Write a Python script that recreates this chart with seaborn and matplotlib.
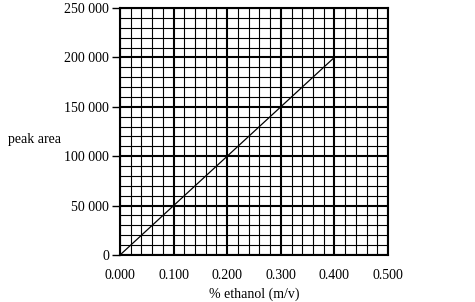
import matplotlib
matplotlib.use("Agg")
import matplotlib.pyplot as plt
import seaborn as sns
import pandas as pd
from matplotlib.ticker import MultipleLocator, FuncFormatter

sns.set_theme(style="white")
plt.rcParams['font.family'] = ['Liberation Serif', 'DejaVu Serif']

ethanol = [0.0, 0.4]
peak_area = [0, 200000]
df = pd.DataFrame({"ethanol": ethanol, "area": peak_area})

fig = plt.figure(figsize=(4.75, 3.02), dpi=100)
ax = fig.add_axes([120/475, 1-255/302, 268/475, 247/302])

ax.set_xlim(0, 0.5)
ax.set_ylim(0, 250000)
ax.xaxis.set_major_locator(MultipleLocator(0.1))
ax.xaxis.set_minor_locator(MultipleLocator(0.02))
ax.yaxis.set_major_locator(MultipleLocator(50000))
ax.yaxis.set_minor_locator(MultipleLocator(10000))
ax.grid(which="minor", color="black", linewidth=0.8)
ax.grid(which="major", color="black", linewidth=1.5)
ax.set_axisbelow(True)

sns.lineplot(data=df, x="ethanol", y="area", ax=ax, color="black", linewidth=0.9)

ax.xaxis.set_major_formatter(FuncFormatter(lambda v, p: f"{v:.3f}"))
ax.yaxis.set_major_formatter(FuncFormatter(lambda v, p: f"{int(round(v)):,}".replace(",", " ")))
ax.tick_params(axis="y", which="major", left=True, length=6, width=1, color="black", labelsize=10, pad=2, labelcolor="black")
ax.tick_params(axis="y", which="minor", left=False)
ax.tick_params(axis="x", which="both", bottom=False, labelsize=10, pad=4, labelcolor="black")
for s in ax.spines.values():
    s.set_color("black")
    s.set_linewidth(1.5)

ax.set_xlabel("% ethanol (m/v)", fontsize=10, color="black", labelpad=4)
ax.set_ylabel("")
fig.text(8/475, 1-140/302, "peak area", fontsize=10, color="black", ha="left", va="center")

fig.savefig("out.png", dpi=100)
